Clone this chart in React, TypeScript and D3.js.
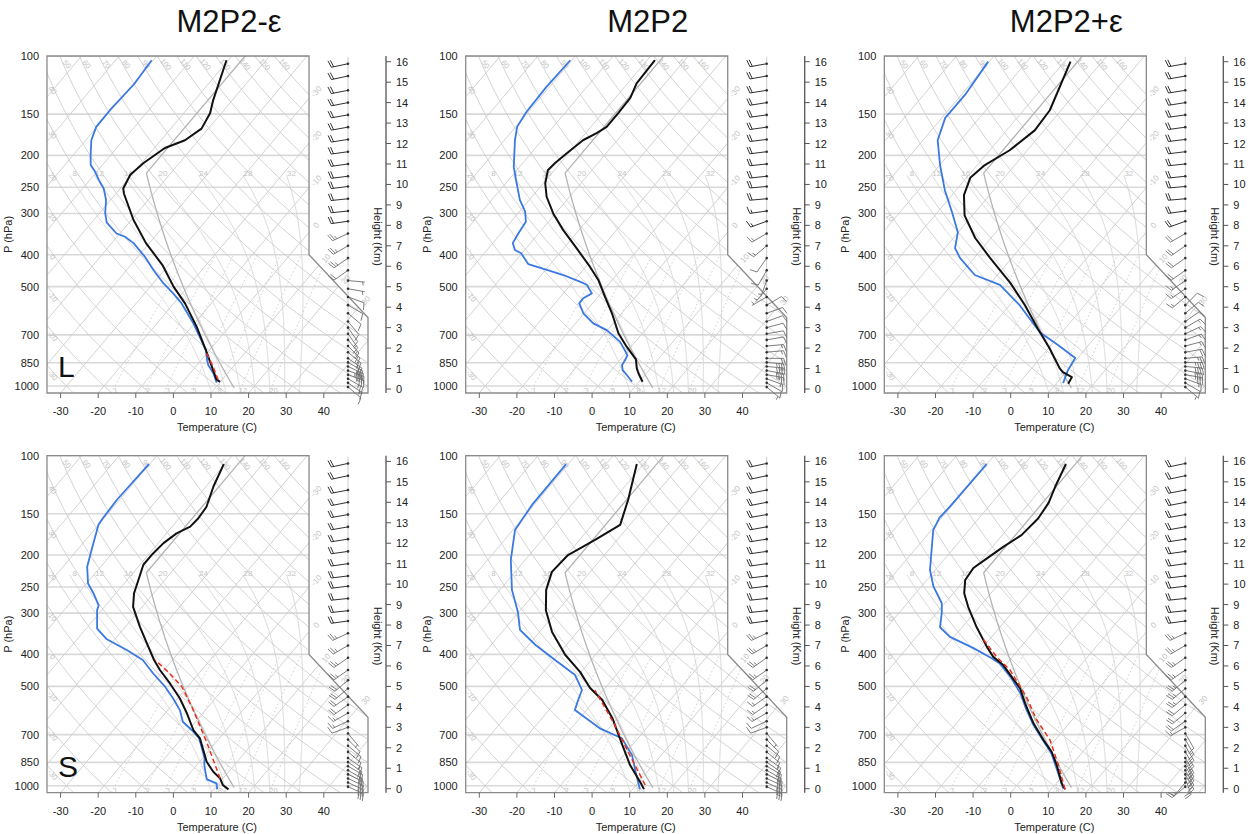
import React from "react";
import * as d3 from "d3";

// ---------------- text ----------------
const TITLES = ["M2P2-ε", "M2P2", "M2P2+ε"];
const ROW_TAGS = ["L", "S"];
const P_AXIS_LABEL = "P (hPa)";
const T_AXIS_LABEL = "Temperature (C)";
const H_AXIS_LABEL = "Height (Km)";

// ---------------- ticks ----------------
const P_TICKS = [100, 150, 200, 250, 300, 400, 500, 700, 850, 1000];
const T_TICKS = [-30, -20, -10, 0, 10, 20, 30, 40];
const H_TICKS = [0, 1, 2, 3, 4, 5, 6, 7, 8, 9, 10, 11, 12, 13, 14, 15, 16];

// ---------------- background reference lines ----------------
const ISOTHERMS = [-120, -110, -100, -90, -80, -70, -60, -50, -40, -30, -20, -10, 0, 10, 20, 30, 40, 50];
const ISOTHERM_LABELS = [-30, -20, -10, 0, 10, 20, 30];
const DRY_ADIABATS = [-30, -20, -10, 0, 10, 20, 30, 40, 50, 60, 70, 80, 90, 100, 110, 120, 130, 140, 150, 160];
const MOIST_ADIABATS = [8, 12, 16, 20, 24, 28, 32];
const MIXING_RATIOS = [1, 2, 3, 5, 8, 12, 20];

// ---------------- soundings: [pressure hPa, °C] ----------------
const TEMP_L_MINUS: [number, number][] = [[971, 9.9], [955, 8.4], [778, -1.0], [661, -8.7], [562, -17.0], [500, -23.8], [430, -31.6], [369, -40.9], [314, -49.4], [261, -57.9], [252, -59.2], [229, -60.4], [211, -59.5], [190, -57.2], [180, -53.6], [166, -51.8], [149, -53.0], [136, -55.1], [103, -60.5]];
const DEW_L_MINUS: [number, number][] = [[977, 9.2], [915, 6.2], [864, 3.0], [835, 1.6], [778, -1.0], [646, -10.3], [562, -17.9], [524, -22.4], [488, -27.3], [445, -32.9], [406, -38.1], [369, -44.2], [353, -47.9], [345, -50.9], [320, -55.9], [300, -58.4], [273, -61.2], [252, -64.4], [237, -67.7], [224, -70.5], [214, -73.1], [202, -75.0], [180, -78.5], [164, -80.2], [146, -80.3], [122, -79.7], [103, -80.4]];
const PARCEL_L_MINUS: [number, number][] = [[959, 9.0], [864, 4.1], [788, -0.6]];

const TEMP_L_CTRL: [number, number][] = [[971, 10.9], [915, 7.9], [884, 6.35], [830, 4.1], [760, -1.2], [692, -6.4], [602, -12.6], [536, -18.2], [477, -23.7], [435, -28.9], [383, -36.5], [337, -44.2], [300, -50.6], [267, -56.1], [243, -59.5], [222, -61.7], [211, -61.4], [197, -60.5], [180, -59.1], [171, -57.0], [164, -55.8], [149, -55.8], [134, -56.0], [121, -57.6], [103, -57.9]];
const DEW_L_CTRL: [number, number][] = [[971, 8.1], [926, 5.2], [895, 3.0], [864, 1.7], [835, 1.4], [806, 0.9], [734, -4.1], [677, -10.2], [646, -15.3], [602, -20.2], [562, -23.5], [542, -23.6], [524, -22.4], [494, -25.6], [488, -26.9], [461, -34.1], [445, -39.6], [427, -45.9], [396, -50.2], [387, -52.6], [369, -54.7], [345, -55.4], [318, -56.0], [296, -58.5], [273, -62.5], [243, -67.1], [217, -71.5], [180, -77.2], [164, -79.6], [148, -80.5], [124, -80.8], [103, -80.4]];

const TEMP_L_PLUS: [number, number][] = [[984, 13.2], [940, 12.7], [908, 9.2], [884, 7.5], [770, 0.4], [669, -7.3], [569, -15.9], [487, -24.8], [409, -35.8], [356, -44.2], [304, -52.1], [264, -56.8], [234, -59.0], [214, -58.0], [193, -54.7], [168, -52.5], [146, -53.0], [104, -58.4]];
const DEW_L_PLUS: [number, number][] = [[979, 11.7], [895, 10.1], [822, 9.3], [751, 1.8], [687, -5.9], [569, -17.3], [494, -27.1], [461, -36.0], [409, -43.8], [382, -47.3], [342, -50.1], [297, -56.2], [255, -63.0], [214, -69.9], [180, -76.1], [154, -79.1], [131, -79.0], [104, -80.3]];

const TEMP_S_MINUS: [number, number][] = [[1026, 13.9], [995, 11.4], [950, 9.2], [907, 5.9], [846, 1.9], [719, -5.1], [678, -8.75], [603, -14.25], [544, -19.4], [490, -25.4], [446, -31.1], [416, -34.9], [370, -40.6], [330, -46.1], [287, -52.4], [261, -55.2], [214, -59.1], [200, -59.1], [184, -58.6], [172, -57.3], [164, -55.2], [155, -54.9], [143, -55.3], [124, -58.0], [106, -60.3]];
const DEW_S_MINUS: [number, number][] = [[1026, 10.9], [984, 9.4], [957, 5.9], [886, 2.9], [855, 1.6], [826, 0.6], [719, -5.3], [678, -9.2], [640, -13.4], [590, -16.8], [544, -21.2], [501, -26.0], [457, -32.1], [416, -37.9], [388, -44.4], [360, -52.1], [334, -57.1], [294, -61.2], [284, -61.9], [261, -66.0], [244, -69.6], [217, -73.6], [193, -76.2], [162, -80.0], [155, -80.3], [136, -80.7], [106, -80.2]];
const PARCEL_S_MINUS: [number, number][] = [[950, 9.2], [836, 3.3], [736, -2.6], [662, -7.7], [576, -14.4], [501, -21.55], [457, -27.7], [416, -34.6]];

const TEMP_S_CTRL: [number, number][] = [[1024, 13.0], [975, 10.4], [866, 3.9], [752, -2.7], [623, -11.4], [550, -18.1], [506, -24.0], [452, -30.3], [401, -38.1], [342, -46.7], [294, -53.2], [255, -57.7], [225, -60.2], [200, -59.7], [180, -55.9], [162, -52.6], [136, -56.1], [106, -61.8]];
const DEW_S_CTRL: [number, number][] = [[1024, 11.9], [910, 7.0], [808, 2.2], [718, -4.3], [670, -12.4], [590, -23.1], [550, -24.5], [513, -25.7], [462, -30.9], [416, -39.6], [374, -48.3], [337, -55.7], [298, -60.2], [255, -66.8], [207, -73.8], [168, -79.4], [141, -80.5], [106, -80.6]];
const PARCEL_S_CTRL: [number, number][] = [[995, 12.4], [808, 1.6], [655, -9.1], [513, -22.3]];

const TEMP_S_PLUS: [number, number][] = [[1026, 13.7], [984, 11.5], [866, 6.05], [789, 1.7], [727, -3.1], [647, -9.5], [563, -16.2], [507, -20.9], [468, -25.7], [431, -30.6], [407, -35.1], [379, -39.1], [330, -46.3], [287, -53.0], [261, -57.1], [238, -59.8], [219, -60.3], [205, -58.9], [189, -57.1], [174, -54.9], [155, -54.2], [139, -54.9], [124, -56.8], [106, -59.0]];
const DEW_S_PLUS: [number, number][] = [[1019, 13.0], [897, 7.3], [798, 2.0], [727, -3.3], [655, -9.1], [590, -14.3], [525, -19.7], [468, -26.0], [426, -31.9], [411, -35.2], [383, -42.3], [354, -51.1], [331, -55.9], [300, -58.6], [280, -60.8], [249, -66.8], [222, -71.4], [168, -79.5], [154, -80.6], [143, -80.3], [106, -80.1]];
const PARCEL_S_PLUS: [number, number][] = [[1026, 13.7], [866, 6.5], [727, -1.35], [632, -9.4], [538, -17.3], [446, -27.7], [407, -34.2], [360, -41.7]];

// ---------------- winds: heights (km) and [direction deg, speed kt] ----------------
const WIND_UP_H = [15.9, 15.3, 14.6, 14.0, 13.4, 12.8, 12.2, 11.6, 11.0, 10.4, 9.9, 9.3, 8.7, 8.2, 7.6, 7.0, 6.4, 5.8];
const WIND_LO_H = [5.3, 4.9, 4.5, 4.1, 3.7, 3.3, 3.0, 2.7, 2.4, 2.1, 1.8, 1.5, 1.3, 1.1, 0.9, 0.7, 0.5, 0.3, 0.1];

const WIND_UP_L_MINUS: [number, number][] = [[258, 20], [258, 20], [259, 20], [259, 20], [260, 20], [260, 20], [261, 20], [262, 20], [262, 20], [263, 20], [263, 20], [264, 20], [264, 20], [262, 20], [245, 25], [240, 25], [235, 25], [235, 20]];
const WIND_LO_L_MINUS: [number, number][] = [[95, 5], [100, 5], [110, 8], [120, 10], [130, 10], [140, 10], [145, 12], [145, 15], [140, 15], [135, 20], [130, 20], [125, 25], [120, 30], [115, 40], [110, 45], [110, 35], [120, 25], [125, 15], [130, 10]];
const WIND_UP_L_CTRL: [number, number][] = [[260, 20], [260, 20], [261, 20], [261, 20], [262, 20], [262, 20], [263, 20], [263, 20], [264, 20], [264, 20], [265, 20], [265, 20], [262, 15], [250, 15], [240, 15], [230, 15], [215, 10], [210, 10]];
const WIND_LO_L_CTRL: [number, number][] = [[200, 5], [220, 5], [240, 5], [60, 8], [70, 10], [70, 10], [75, 12], [80, 12], [80, 12], [85, 15], [85, 15], [90, 20], [95, 35], [95, 40], [100, 40], [100, 25], [110, 15], [120, 10], [130, 5]];
const WIND_UP_L_PLUS: [number, number][] = [[260, 20], [260, 20], [261, 20], [261, 20], [262, 20], [262, 20], [263, 20], [263, 20], [264, 20], [264, 20], [265, 20], [265, 20], [262, 20], [250, 20], [240, 20], [235, 20], [235, 20], [235, 20]];
const WIND_LO_L_PLUS: [number, number][] = [[235, 15], [235, 15], [230, 15], [45, 10], [50, 12], [55, 12], [60, 15], [65, 15], [70, 15], [75, 15], [80, 20], [85, 25], [90, 35], [95, 40], [100, 40], [100, 30], [110, 15], [120, 10], [130, 5]];
const WIND_UP_S_MINUS: [number, number][] = [[258, 20], [258, 20], [259, 20], [259, 20], [260, 20], [260, 20], [261, 20], [262, 20], [262, 20], [263, 20], [263, 20], [264, 20], [264, 20], [262, 20], [245, 25], [240, 25], [235, 25], [235, 25]];
const WIND_LO_S_MINUS: [number, number][] = [[230, 20], [230, 20], [235, 20], [235, 20], [240, 15], [245, 15], [250, 10], [140, 5], [135, 8], [130, 10], [130, 12], [125, 15], [125, 18], [120, 20], [120, 22], [115, 25], [115, 28], [115, 30], [115, 30]];
const WIND_UP_S_CTRL: [number, number][] = [[258, 20], [258, 20], [259, 20], [259, 20], [260, 20], [260, 20], [261, 20], [262, 20], [262, 20], [263, 20], [263, 20], [264, 20], [264, 20], [262, 20], [245, 25], [240, 25], [235, 25], [235, 25]];
const WIND_LO_S_CTRL: [number, number][] = [[230, 20], [230, 20], [235, 15], [235, 15], [240, 15], [245, 10], [250, 10], [140, 5], [135, 8], [130, 10], [130, 12], [125, 15], [125, 18], [120, 20], [120, 22], [115, 25], [115, 28], [115, 30], [115, 30]];
const WIND_UP_S_PLUS: [number, number][] = [[258, 20], [258, 20], [259, 20], [259, 20], [260, 20], [260, 20], [261, 20], [262, 20], [262, 20], [263, 20], [263, 20], [264, 20], [264, 20], [262, 20], [245, 25], [240, 25], [235, 25], [235, 25]];
const WIND_LO_S_PLUS: [number, number][] = [[230, 25], [230, 25], [230, 25], [230, 20], [230, 20], [235, 20], [240, 15], [150, 10], [150, 15], [150, 20], [150, 25], [150, 25], [150, 25], [150, 25], [150, 25], [150, 25], [160, 20], [220, 15], [230, 15]];

// ---------------- layout ----------------
const W = 1255, H = 834;
const PANEL_X = [47, 465.7, 884.3];
const PANEL_Y = [56, 455.7];
const FW = 321, FH = 337;
const X_MIN = -19, X_MAX = 27.1, X_TOP = 18.63;
const FONT = "'Liberation Sans', Arial, Helvetica, sans-serif";
const BG = "#cdcdcd";
const BG_TXT = "#c4c4c4";

// skew-T transform (NCL convention) through d3 scales
const xs = d3.scaleLinear().domain([X_MIN, X_MAX]).range([0, FW]);
const ys = d3.scaleLog().domain([1050, 100]).range([FH, 0]);
const hs = d3.scaleLinear().domain([0, 16]).range([333, 5.7]);
const yUnit = (p: number) => 132.182 - 44.061 * Math.log10(p);
const xUnit = (p: number, t: number) => 0.54 * t + 0.90692 * yUnit(p);
const toXY = (p: number, t: number): [number, number] => [xs(xUnit(p, t)), ys(p)];
const lineGen = d3.line<[number, number]>();
const PS = d3.range(0, 161).map((i) => 1050 * Math.pow(100 / 1050, i / 160));

const dryT = (th: number, p: number) => (th + 273.15) * Math.pow(p / 1000, 0.2857) - 273.15;
const mixT = (w: number, p: number) => {
  const e = (p * w) / (622 + w);
  const l = Math.log(e / 6.112);
  return (243.5 * l) / (17.67 - l);
};
function moistProfile(tw: number): [number, number][] {
  const Rd = 287.04, cp = 1005.7, Lv = 2.501e6, eps = 0.622;
  const f = (p: number, T: number) => {
    const tc = T - 273.15;
    const es = 6.112 * Math.exp((17.67 * tc) / (tc + 243.5));
    const rs = (eps * es) / (p - es);
    return (Rd * T + Lv * rs) / (p * (cp + (Lv * Lv * rs * eps) / (Rd * T * T)));
  };
  const down: [number, number][] = [];
  let T = tw + 273.15;
  for (let p = 1000; p < 1050; p += 2) {
    const k1 = f(p, T);
    const k2 = f(p + 1, T + k1);
    T += 2 * k2;
    down.push([p + 2, T - 273.15]);
  }
  const up: [number, number][] = [];
  T = tw + 273.15;
  for (let p = 1000; p >= 230; p -= 2) {
    up.push([p, T - 273.15]);
    const k1 = f(p, T);
    const k2 = f(p - 1, T - k1);
    T -= 2 * k2;
  }
  return [...down.reverse(), ...up];
}
const stdT = (p: number) => (p > 226.32 ? 288.15 * Math.pow(p / 1013.25, 0.190263) - 273.15 : -56.5);
const rightBound = (p: number) =>
  p <= 400 ? X_TOP : p >= 620 ? X_MAX : X_TOP + (X_MAX - X_TOP) * (Math.log(p / 400) / Math.log(620 / 400));

function solveP(f: (p: number) => number, lo = 100, hi = 1050): number | null {
  let a = lo, b = hi, fa = f(a), fb = f(b);
  if (fa * fb > 0) return null;
  for (let i = 0; i < 60; i++) {
    const m = Math.sqrt(a * b);
    const fm = f(m);
    if (fa * fm <= 0) { b = m; fb = fm; } else { a = m; fa = fm; }
  }
  return Math.sqrt(a * b);
}

// ---------- precomputed background geometry (same in all panels) ----------
const clipPts: [number, number][] = [
  [0, FH], [0, 0], [xs(X_TOP), 0], [xs(X_TOP), ys(400)], [xs(X_MAX), ys(620)], [FW, FH],
];
const framePath = "M" + clipPts.map((d) => d.join(",")).join("L") + "Z";
const isoPaths = ISOTHERMS.map((t) => lineGen([toXY(1050, t), toXY(100, t)]) as string);
const dryPaths = DRY_ADIABATS.map((th) => lineGen(PS.map((p) => toXY(p, dryT(th, p)))) as string);
const moistData = MOIST_ADIABATS.map((tw) => moistProfile(tw));
const moistPaths = moistData.map((pr) => lineGen(pr.map(([p, t]) => toXY(p, t))) as string);
const PS_MIX = d3.range(0, 61).map((i) => 1050 * Math.pow(400 / 1050, i / 60));
const mixPaths = MIXING_RATIOS.map((w) => lineGen(PS_MIX.map((p) => toXY(p, mixT(w, p)))) as string);
const PS_STD = [1013.25, ...PS.filter((p) => p < 1013.25 && p > 226.32), 226.32, 100];
const stdPath = lineGen(PS_STD.map((p) => toXY(p, stdT(p)))) as string;

// labels
const dryLabels = DRY_ADIABATS.map((th) => {
  const pTop = ys.invert(8);
  const xt = xUnit(pTop, dryT(th, pTop));
  if (xt >= X_MIN + 0.3 && xt <= X_TOP - 0.5) {
    return { th, x: xs(xt) + 4, y: 11, rot: 50 };
  }
  const target = X_MIN + 6 / (FW / (X_MAX - X_MIN));
  const p = solveP((pp) => xUnit(pp, dryT(th, pp)) - target, 100, 1050);
  if (p === null) return null;
  return { th, x: 6, y: ys(p) + 6, rot: 50 };
}).filter((d) => d !== null) as { th: number; x: number; y: number; rot: number }[];

const isoLabels = ISOTHERM_LABELS.map((t) => {
  const p = solveP((pp) => xUnit(pp, t) - rightBound(pp), 100, 1050);
  if (p === null) return null;
  const [x, y] = toXY(p, t);
  return { t, x: x + 7, y: y - 4 };
}).filter((d) => d !== null) as { t: number; x: number; y: number }[];

const moistLabels = moistData.map((pr, i) => {
  const last = pr[pr.length - 1];
  const [x] = toXY(last[0], last[1]);
  return { v: MOIST_ADIABATS[i], x: x + 5, y: ys(226) + 3 };
});
const mixLabels = MIXING_RATIOS.map((w) => {
  const [x] = toXY(1030, mixT(w, 1030));
  return { w, x: x + 3, y: ys(1030) + 3 };
});

// ---------- wind barb ----------
function Barb({ x, y, dir, spd, color }: { x: number; y: number; dir: number; spd: number; color: string }) {
  const L = 17;
  const r = (dir * Math.PI) / 180;
  const dx = Math.sin(r), dy = -Math.cos(r);
  const fx = -dy, fy = dx;
  const tx = x + dx * L, ty = y + dy * L;
  let s = Math.round(spd / 5) * 5;
  const els: JSX.Element[] = [];
  els.push(<line key="st" x1={x} y1={y} x2={tx} y2={ty} stroke={color} strokeWidth={0.9} />);
  let pos = 0;
  const FL = 7;
  let k = 0;
  while (s >= 50) {
    const ax = tx - dx * pos, ay = ty - dy * pos;
    const bx = tx - dx * (pos + 3.5), by = ty - dy * (pos + 3.5);
    els.push(<polygon key={"pn" + k++} points={`${ax},${ay} ${bx},${by} ${ax + fx * FL},${ay + fy * FL}`} fill={color} />);
    pos += 4;
    s -= 50;
  }
  while (s >= 10) {
    const ax = tx - dx * pos, ay = ty - dy * pos;
    els.push(<line key={"fb" + k++} x1={ax} y1={ay} x2={ax + fx * FL + dx * 2} y2={ay + fy * FL + dy * 2} stroke={color} strokeWidth={0.9} />);
    pos += 2.4;
    s -= 10;
  }
  if (s >= 5) {
    if (pos === 0) pos = 2.4;
    const ax = tx - dx * pos, ay = ty - dy * pos;
    els.push(<line key={"hb" + k++} x1={ax} y1={ay} x2={ax + fx * FL * 0.5 + dx} y2={ay + fy * FL * 0.5 + dy} stroke={color} strokeWidth={0.9} />);
  }
  return <g>{els}</g>;
}

type PanelSpec = {
  col: number; row: number;
  temp: [number, number][]; dew: [number, number][]; parcel: [number, number][] | null;
  windUp: [number, number][]; windLo: [number, number][];
};

const PANELS: PanelSpec[] = [
  { col: 0, row: 0, temp: TEMP_L_MINUS, dew: DEW_L_MINUS, parcel: PARCEL_L_MINUS, windUp: WIND_UP_L_MINUS, windLo: WIND_LO_L_MINUS },
  { col: 1, row: 0, temp: TEMP_L_CTRL, dew: DEW_L_CTRL, parcel: null, windUp: WIND_UP_L_CTRL, windLo: WIND_LO_L_CTRL },
  { col: 2, row: 0, temp: TEMP_L_PLUS, dew: DEW_L_PLUS, parcel: null, windUp: WIND_UP_L_PLUS, windLo: WIND_LO_L_PLUS },
  { col: 0, row: 1, temp: TEMP_S_MINUS, dew: DEW_S_MINUS, parcel: PARCEL_S_MINUS, windUp: WIND_UP_S_MINUS, windLo: WIND_LO_S_MINUS },
  { col: 1, row: 1, temp: TEMP_S_CTRL, dew: DEW_S_CTRL, parcel: PARCEL_S_CTRL, windUp: WIND_UP_S_CTRL, windLo: WIND_LO_S_CTRL },
  { col: 2, row: 1, temp: TEMP_S_PLUS, dew: DEW_S_PLUS, parcel: PARCEL_S_PLUS, windUp: WIND_UP_S_PLUS, windLo: WIND_LO_S_PLUS },
];

function Panel({ spec, idx }: { spec: PanelSpec; idx: number }) {
  const L = PANEL_X[spec.col];
  const T = PANEL_Y[spec.row];
  const clipId = `clip${idx}`;
  const prof = (d: [number, number][]) => lineGen(d.map(([p, t]) => toXY(p, t))) as string;
  const barbX = 301;
  const winds = [
    ...WIND_UP_H.map((h, i) => ({ h, dir: spec.windUp[i][0], spd: spec.windUp[i][1] })),
    ...WIND_LO_H.map((h, i) => ({ h, dir: spec.windLo[i][0], spd: spec.windLo[i][1] })),
  ];
  return (
    <g transform={`translate(${L},${T})`} fontFamily={FONT}>
      <defs>
        <clipPath id={clipId}>
          <path d={framePath} />
        </clipPath>
      </defs>
      <g clipPath={`url(#${clipId})`}>
        {P_TICKS.map((p) => (
          <line key={p} x1={0} x2={FW} y1={ys(p)} y2={ys(p)} stroke="#d9d9d9" strokeWidth={1.6} />
        ))}
        {isoPaths.map((d, i) => <path key={"it" + i} d={d} fill="none" stroke={BG} strokeWidth={0.9} />)}
        {dryPaths.map((d, i) => <path key={"da" + i} d={d} fill="none" stroke={BG} strokeWidth={0.9} />)}
        {moistPaths.map((d, i) => <path key={"ma" + i} d={d} fill="none" stroke="#d2d2d2" strokeWidth={0.9} />)}
        {mixPaths.map((d, i) => <path key={"mr" + i} d={d} fill="none" stroke="#c8c8c8" strokeWidth={0.9} strokeDasharray="1.5,2.5" />)}
        <path d={stdPath} fill="none" stroke="#b4b4b4" strokeWidth={1.3} />
        {dryLabels.map((d) => (
          <text key={"dl" + d.th} x={d.x} y={d.y} fontSize={7.5} fill={BG_TXT} textAnchor="middle" transform={`rotate(${d.rot},${d.x},${d.y - 3})`}>{d.th}</text>
        ))}
        {moistLabels.map((d) => (
          <text key={"ml" + d.v} x={d.x} y={d.y} fontSize={8} fill={BG_TXT} textAnchor="middle">{d.v}</text>
        ))}
        {mixLabels.map((d) => (
          <text key={"xl" + d.w} x={d.x} y={d.y} fontSize={7.5} fill={BG_TXT} textAnchor="middle">{d.w}</text>
        ))}
        <path d={prof(spec.dew)} fill="none" stroke="#3a78e2" strokeWidth={1.8} strokeLinejoin="round" />
        <path d={prof(spec.temp)} fill="none" stroke="#111" strokeWidth={2} strokeLinejoin="round" />
        {spec.parcel && (
          <path d={prof(spec.parcel)} fill="none" stroke="#e8301c" strokeWidth={1.5} strokeDasharray="5,3" />
        )}
      </g>
      {isoLabels.map((d) => (
        <text key={"il" + d.t} x={d.x} y={d.y} fontSize={8} fill={BG_TXT} textAnchor="middle" transform={`rotate(-48,${d.x},${d.y - 3})`}>{d.t}</text>
      ))}
      <path d={framePath} fill="none" stroke="#8a8a8a" strokeWidth={1.3} />
      {/* wind barbs */}
      <line x1={barbX} x2={barbX} y1={1} y2={hs(0)} stroke="#bdbdbd" strokeWidth={0.8} />
      {winds.map((w, i) => {
        const y = hs(w.h);
        const color = w.h >= 8 ? "#1a1a1a" : "#6e6e6e";
        return (
          <g key={"wb" + i}>
            <Barb x={barbX} y={y} dir={w.dir} spd={w.spd} color={color} />
            <circle cx={barbX} cy={y} r={1.3} fill="#333" />
          </g>
        );
      })}
      {/* pressure axis */}
      {P_TICKS.map((p) => (
        <text key={"pl" + p} x={-8} y={ys(p) + 4} fontSize={11} textAnchor="end" fill="#222">{p}</text>
      ))}
      <text x={0} y={0} fontSize={11} fill="#222" textAnchor="middle" transform={`translate(-35,${FH / 2 + 10}) rotate(-90)`}>{P_AXIS_LABEL}</text>
      {/* temperature axis */}
      {T_TICKS.map((t) => {
        const x = xs(xUnit(1050, t));
        return (
          <g key={"tt" + t}>
            <line x1={x} x2={x} y1={FH} y2={FH + 5} stroke="#666" strokeWidth={1} />
            <text x={x} y={FH + 22} fontSize={11} textAnchor="middle" fill="#222">{t}</text>
          </g>
        );
      })}
      <text x={170} y={FH + 38} fontSize={11} textAnchor="middle" fill="#222">{T_AXIS_LABEL}</text>
      {/* height axis */}
      <line x1={339} x2={339} y1={0} y2={FH} stroke="#555" strokeWidth={1.3} />
      {H_TICKS.map((h) => (
        <g key={"h" + h}>
          <line x1={339} x2={344} y1={hs(h)} y2={hs(h)} stroke="#555" strokeWidth={1} />
          <text x={349} y={hs(h) + 4} fontSize={11} fill="#222">{h}</text>
        </g>
      ))}
      <text x={0} y={0} fontSize={11} fill="#222" textAnchor="middle" transform={`translate(327,${FH / 2 + 12}) rotate(90)`}>{H_AXIS_LABEL}</text>
      {spec.col === 0 && (
        <text x={11} y={FH - 16} fontSize={30} fill="#111">{ROW_TAGS[spec.row]}</text>
      )}
      {spec.row === 0 && (
        <text x={182} y={-24} fontSize={31} textAnchor="middle" fill="#111">{TITLES[spec.col]}</text>
      )}
    </g>
  );
}

export default function App() {
  return (
    <svg width={W} height={H} style={{ position: "absolute", left: 0, top: 0, background: "#fff" }}>
      <rect x={0} y={0} width={W} height={H} fill="#fff" />
      {PANELS.map((s, i) => <Panel key={i} spec={s} idx={i} />)}
    </svg>
  );
}
